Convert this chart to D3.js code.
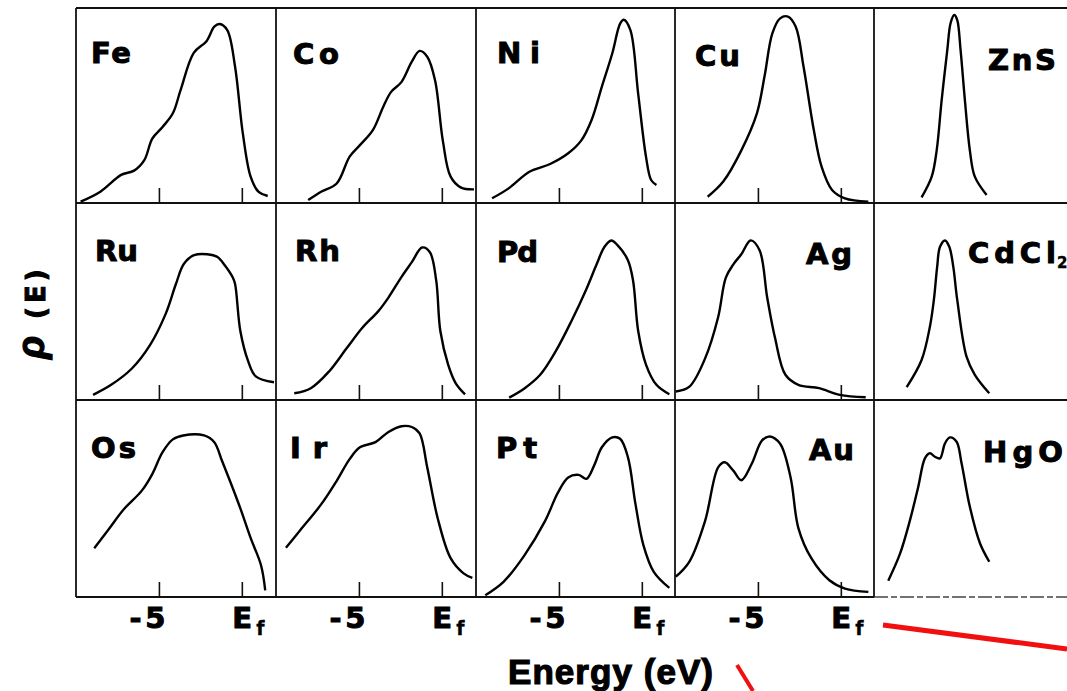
<!DOCTYPE html>
<html>
<head>
<meta charset="utf-8">
<script src="https://cdn.jsdelivr.net/npm/d3@7"></script>
<style>
  body { margin: 0; background: #fff; }
  svg { display: block; }
  .lbl { font-family: "DejaVu Sans", sans-serif; font-weight: bold; fill: #000; stroke: #000; stroke-width: 1px; }
  .title { font-family: "Liberation Sans", Arial, sans-serif; font-weight: bold; fill: #000; stroke: #000; stroke-width: 1.2px; }
  .frame line { stroke: #111; stroke-width: 1.8px; }
  .tick line { stroke: #111; stroke-width: 1.6px; }
</style>
</head>
<body>
<svg width="1067" height="691"></svg>
<script>
// [energy (eV, relative to Ef), rho (% of panel height)]
var fe = [[-9.72,0.7],[-8.53,5.8],[-7.28,14.4],[-6.5,16.6],[-5.88,22],[-5.4,33],[-4.78,39],[-4.16,46],[-3.69,58],[-2.9,77],[-2.13,83],[-1.66,90.4],[-1.34,91.8],[-0.88,88.7],[-0.41,70],[0.06,35.7],[0.53,13.5],[1.0,5.8],[1.56,3.6]];
var co = [[-8.06,1.5],[-7.28,5.8],[-6.34,10],[-5.56,23.8],[-4.94,29.7],[-4.16,37.4],[-3.53,49.4],[-3.06,57],[-2.44,62],[-1.81,72.5],[-1.34,78],[-0.88,75],[-0.41,63],[0.06,32],[0.53,13.5],[1.16,7.9],[1.94,7.0]];
var ni = [[-9.03,2.4],[-8.03,7.5],[-6.78,16],[-5.53,20],[-4.44,25.5],[-3.66,32],[-3.03,42.6],[-2.41,59.7],[-1.78,76.8],[-1.31,92],[-1.09,94],[-0.69,88.7],[-0.22,56],[0.25,23.8],[0.56,11.8],[0.88,9.2]];
var cu = [[-8.03,3.2],[-7.09,11],[-6.0,27],[-5.06,46],[-4.6,65],[-4.13,87],[-3.66,94.7],[-3.19,95.6],[-2.72,90.4],[-2.25,70],[-1.63,37.4],[-1.16,18.6],[-0.53,6.7],[0.25,2.4],[1.66,0.7]];
var zns = [[-7.13,2.9],[-6.52,13.5],[-6.22,27],[-5.92,52.8],[-5.58,78.5],[-5.38,92.3],[-5.16,96.4],[-4.98,93.8],[-4.78,78.5],[-4.52,52.8],[-4.22,27],[-3.92,13.5],[-3.21,4.1]];

var ru = [[-8.97,2.6],[-7.88,7.7],[-6.63,16],[-5.53,28],[-4.6,43.6],[-3.97,59],[-3.5,69],[-2.88,73.5],[-2.09,74],[-1.47,72.6],[-1.03,68.4],[-0.56,62.4],[-0.41,59],[-0.09,35],[0.38,19.7],[0.84,12],[1.94,9]];
var rh = [[-8.9,3.4],[-7.9,6],[-6.8,14.5],[-5.72,26.5],[-4.78,36.8],[-3.84,45],[-3.22,52],[-2.44,62.4],[-1.81,70],[-1.19,77.4],[-0.72,75],[-0.34,60.7],[-0.09,35],[0.38,18],[0.84,8.5],[1.4,2.9]];
var pd = [[-8.0,1.2],[-7.06,6],[-6.13,12.8],[-5.19,24.8],[-4.25,40],[-3.34,56.4],[-2.72,69],[-2.25,77.8],[-1.84,81],[-1.47,78.6],[-0.84,71],[-0.53,60.7],[-0.22,35],[0.25,18],[0.88,7.7],[1.66,2.9]];
var ag = [[-9.95,4.3],[-9.13,6.8],[-8.19,21],[-7.4,42],[-6.94,62],[-6.47,69],[-6.0,74],[-5.44,81],[-4.9,76],[-4.44,52],[-3.97,31.6],[-3.34,12.8],[-2.56,7.7],[-1.31,6],[-0.06,2.6],[1.5,1.4]];
var cdcl2 = [[-8.03,6.5],[-7.13,20.3],[-6.63,37.2],[-6.39,50.8],[-6.19,67.7],[-6.02,77.8],[-5.72,81],[-5.46,77.8],[-5.22,67.7],[-4.98,50.8],[-4.42,22],[-3.92,12.8],[-3.05,3.4]];

var os = [[-8.9,24.8],[-8.06,34],[-7.13,44.4],[-6.03,54],[-5.4,62.4],[-4.78,73.5],[-4.16,80],[-3.53,82],[-2.28,82],[-1.66,78.6],[-1.19,69],[-0.72,59],[-0.09,45],[0.53,30],[1.16,16],[1.41,3.4]];
var ir = [[-9.4,25],[-8.53,34],[-7.28,47],[-6.34,59],[-5.56,70],[-4.94,76],[-4.0,78.6],[-3.22,83.8],[-2.44,86.7],[-1.81,86.3],[-1.34,83],[-0.88,65.8],[-0.25,40],[0.53,19.7],[1.31,12],[1.84,9.7]];
var pt = [[-9.44,0.9],[-8.34,7.7],[-7.09,21],[-5.84,38.5],[-5.06,53],[-4.44,60.7],[-3.81,62],[-3.34,60],[-2.88,66.7],[-2.41,76],[-1.78,81],[-1.31,80.3],[-0.84,71],[-0.38,47],[0.09,26.5],[0.72,12.8],[1.66,4.6]];
var au = [[-9.95,10.3],[-9.13,18],[-8.19,38.5],[-7.4,65.8],[-7.0,68.4],[-6.47,64],[-6.0,59.3],[-5.38,67.5],[-4.75,79.5],[-4.28,81.5],[-3.66,77.8],[-3.03,60.7],[-2.56,35],[-1.78,19.7],[-0.69,8.5],[0.25,4.3],[1.66,2.6]];
var hgo = [[-9.14,8.3],[-8.43,22],[-7.83,39],[-7.33,56],[-6.93,70.4],[-6.63,73],[-6.33,71.2],[-6.02,70.4],[-5.72,78],[-5.42,81],[-5.02,78.8],[-4.72,67.9],[-4.22,45.8],[-3.61,27.3],[-3.05,17.9]];

var names = [["Fe", "Co", "Ni", "Cu", "ZnS"],
             ["Ru", "Rh", "Pd", "Ag", "CdCl|2"],
             ["Os", "Ir", "Pt", "Au", "HgO"]];
var spectra = [[fe, co, ni, cu, zns],
               [ru, rh, pd, ag, cdcl2],
               [os, ir, pt, au, hgo]];

var energyDomain = [-10, 2];
var tickValues = [-5, 0];
var tickMain = ["-5", "E"];
var tickSub = ["", "f"];

// layout
var svg = d3.select("svg");
var colLeft = [76, 276, 476, 675, 874];
var rowTop = [8, 203, 400];
var rowBottom = [203, 400, 597];
var rightEdge = 1067;

// label placement: [x, baseline, width]
var labelPos = [
  [[91, 63, 40], [293, 64, 46], [497, 63, 43], [695, 66, 45], [988, 70, 68]],
  [[95, 261, 43], [295, 261, 45], [497, 262, 41], [806, 264, 46], [968, 263, 88]],
  [[91, 458, 45], [290, 458, 37], [496, 458, 41], [809, 460, 45], [983, 462, 80]]
];

var x = d3.scaleLinear().domain(energyDomain).range([0, 199]);

var line = d3.line()
    .x(function (d) { return x(d[0]); })
    .curve(d3.curveCatmullRom.alpha(0.5));

// frame
var frame = svg.append("g").attr("class", "frame");
rowTop.concat([rowBottom[2]]).forEach(function (yy, i) {
  frame.append("line")
      .attr("x1", colLeft[0]).attr("x2", i < 3 ? rightEdge : colLeft[4])
      .attr("y1", yy).attr("y2", yy);
});
frame.append("line")
    .attr("x1", colLeft[4]).attr("x2", rightEdge)
    .attr("y1", rowBottom[2]).attr("y2", rowBottom[2])
    .style("stroke", "#444").style("stroke-width", "1.3px")
    .style("stroke-dasharray", "14,3,6,3");
colLeft.forEach(function (xx) {
  frame.append("line")
      .attr("x1", xx).attr("x2", xx)
      .attr("y1", rowTop[0]).attr("y2", rowBottom[2]);
});

names.forEach(function (row, r) {
  var h = rowBottom[r] - rowTop[r];
  var y = d3.scaleLinear().domain([0, 100]).range([h, 0]);
  row.forEach(function (name, c) {
    var g = svg.append("g")
        .attr("transform", "translate(" + colLeft[c] + "," + rowTop[r] + ")");

    if (c < 4) {
      var ax = g.append("g")
          .attr("transform", "translate(0," + h + ")")
          .call(d3.axisBottom(x)
              .tickValues(tickValues)
              .tickSizeInner(-15)
              .tickSizeOuter(0)
              .tickPadding(10)
              .tickFormat(function (d, i) { return tickMain[i]; }));
      ax.select(".domain").remove();
      if (r < 2) {
        ax.selectAll(".tick text").remove();
      } else {
        ax.selectAll(".tick text")
            .attr("class", "lbl")
            .style("font-size", "29px")
            .attr("text-anchor", function (d, i) { return i ? "start" : "end"; })
            .attr("dx", function (d, i) { return i ? -10 : 6; })
            .attr("textLength", function (d, i) { return i ? null : 36; })
            .attr("lengthAdjust", "spacing")
            .each(function (d, i) {
              if (tickSub[i]) {
                d3.select(this).append("tspan")
                    .attr("dx", 4).attr("dy", 7)
                    .style("font-size", "19px")
                    .style("stroke-width", "0.3px")
                    .text(tickSub[i]);
              }
            });
      }
    }

    line.y(function (d) { return y(d[1]); });
    g.append("path")
        .datum(spectra[r][c])
        .attr("d", line)
        .attr("fill", "none")
        .attr("stroke", "#000")
        .attr("stroke-width", 2.4)
        .attr("stroke-linejoin", "round");

    var parts = name.split("|");
    var p = labelPos[r][c];
    svg.append("text")
        .attr("class", "lbl")
        .attr("x", p[0]).attr("y", p[1])
        .attr("textLength", p[2])
        .attr("lengthAdjust", "spacing")
        .style("font-size", "29px")
        .text(parts[0]);
    if (parts[1]) {
      svg.append("text")
          .attr("class", "lbl")
          .attr("x", p[0] + p[2] + 1).attr("y", p[1] + 5)
          .style("font-size", "15px")
          .style("stroke-width", "0.4px")
          .text(parts[1]);
    }
  });
});

// axis titles
svg.append("text")
    .attr("class", "title")
    .attr("x", 508).attr("y", 684)
    .attr("textLength", 205)
    .attr("lengthAdjust", "spacing")
    .style("font-size", "35px")
    .text("Energy (eV)");

svg.append("text")
    .attr("class", "title")
    .attr("transform", "translate(44,359) rotate(-90)")
    .style("font-size", "38px")
    .style("font-style", "italic")
    .text("ρ");
svg.append("text")
    .attr("class", "lbl")
    .attr("transform", "translate(45,319) rotate(-90)")
    .style("font-size", "26px")
    .style("letter-spacing", "4px")
    .text("(E)");

// red annotation strokes
var marks = [[883, 625, 1067, 649, 5], [737, 665, 753, 691, 4]];
svg.selectAll(".mark")
    .data(marks)
    .enter().append("line")
    .attr("x1", function (d) { return d[0]; })
    .attr("y1", function (d) { return d[1]; })
    .attr("x2", function (d) { return d[2]; })
    .attr("y2", function (d) { return d[3]; })
    .attr("stroke", "#f01010")
    .attr("stroke-width", function (d) { return d[4]; });
</script>
</body>
</html>
